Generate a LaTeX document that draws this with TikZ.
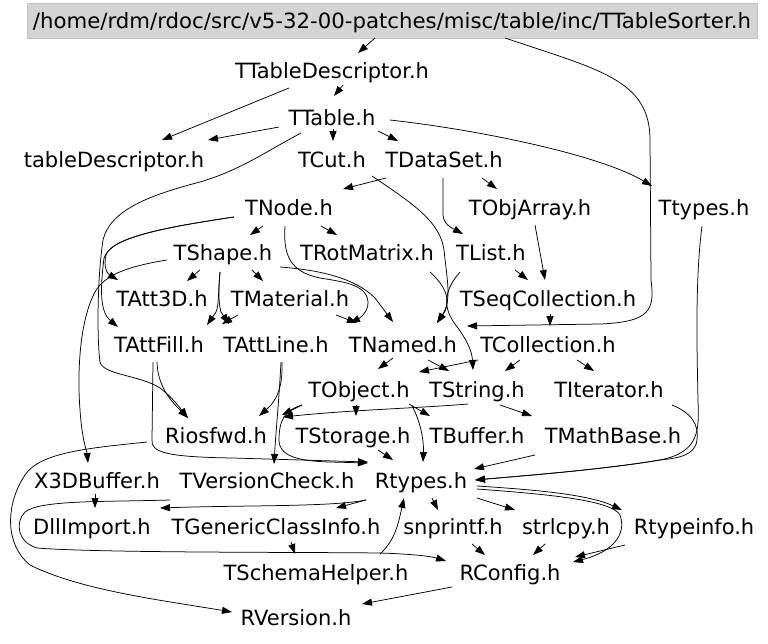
\documentclass[tikz,border=0pt]{standalone}
\usepackage{fontspec}
\usepackage{graphicx}
\setmainfont{DejaVu Sans}
\usetikzlibrary{arrows.meta,calc}
\begin{document}
\begin{tikzpicture}[x=1pt,y=-1pt,
  n/.style={font=\fontsize{21}{25}\selectfont, text height=16pt, text depth=0pt, inner sep=0pt},
  e/.style={draw=black, line width=0.75pt, -{Triangle[length=10pt,width=7pt]}},
  rootbox/.style={fill=black!17, draw=black!24, line width=0.8pt, minimum width=730pt, minimum height=35pt, inner sep=0pt, font=\fontsize{21}{25}\selectfont, text height=16pt, text depth=0pt}]
\useasboundingbox (0,0) rectangle (768,643);
% nodes
\node[rootbox] (root) at (392,20.5) {\resizebox{718pt}{\height}{/home/rdm/rdoc/src/v5-32-00-patches/misc/table/inc/TTableSorter.h}};
\node[n] (TTD) at (332,70) {TTableDescriptor.h};
\node[n] (TT) at (332,117) {TTable.h};
\node[n] (td) at (114,159) {tableDescriptor.h};
\node[n] (TCut) at (332,159) {TCut.h};
\node[n] (TDS) at (444,159) {TDataSet.h};
\node[n] (TNode) at (289,207) {TNode.h};
\node[n] (TObjArray) at (530,207) {TObjArray.h};
\node[n] (Ttypes) at (704,207) {Ttypes.h};
\node[n] (TShape) at (223,252) {TShape.h};
\node[n] (TRotMatrix) at (367,252) {TRotMatrix.h};
\node[n] (TList) at (491,252) {TList.h};
\node[n] (TAtt3D) at (162,298) {TAtt3D.h};
\node[n] (TMaterial) at (290,298) {TMaterial.h};
\node[n] (TSeqCollection) at (548,298) {TSeqCollection.h};
\node[n] (TAttFill) at (159,344) {TAttFill.h};
\node[n] (TAttLine) at (276,344) {TAttLine.h};
\node[n] (TNamed) at (403,344) {TNamed.h};
\node[n] (TCollection) at (548,344) {TCollection.h};
\node[n] (TObject) at (359,389) {TObject.h};
\node[n] (TString) at (477,389) {TString.h};
\node[n] (TIterator) at (609,389) {TIterator.h};
\node[n] (Riosfwd) at (216,435) {Riosfwd.h};
\node[n] (TStorage) at (353,435) {TStorage.h};
\node[n] (TBuffer) at (477,435) {TBuffer.h};
\node[n] (TMathBase) at (613,435) {TMathBase.h};
\node[n] (X3DBuffer) at (97,480) {X3DBuffer.h};
\node[n] (TVersionCheck) at (267,480) {TVersionCheck.h};
\node[n] (Rtypes) at (421,480) {Rtypes.h};
\node[n] (DllImport) at (92,526) {DllImport.h};
\node[n] (TGenericClassInfo) at (276,526) {TGenericClassInfo.h};
\node[n] (snprintf) at (453,526) {snprintf.h};
\node[n] (strlcpy) at (566,526) {strlcpy.h};
\node[n] (Rtypeinfo) at (694,526) {Rtypeinfo.h};
\node[n] (TSchemaHelper) at (316,572) {TSchemaHelper.h};
\node[n] (RConfig) at (510,572) {RConfig.h};
\node[n] (RVersion) at (296,617) {RVersion.h};
% edges
\draw[e] ($(root)+(-17,17.5)$) -- ($(TTD)+(26,-17)$);
\draw[e] ($(TTD)+(11,15)$) -- ($(TT)+(2,-21)$);
\draw[e] ($(TTD)+(-43,18)$) -- ($(td)+(48,-19)$);
\draw[e] ($(TT)+(-53,10)$) -- ($(td)+(94,-19)$);
\draw[e] ($(TT)+(1,12)$) -- ($(TCut)+(1,-18)$);
\draw[e] ($(TT)+(46,14)$) -- ($(TDS)+(-46,-18)$);
\draw[e] ($(TT)+(58,3)$) .. controls (480,130) and (600,155) .. ($(Ttypes)+(-52,-21)$);
\draw[e] ($(TT)+(-31,16)$) .. controls (260,155) and (240,170) .. (200,182) .. controls (150,195) and (110,210) .. (103,240) .. controls (97,280) and (97,340) .. (100,362) .. controls (103,375) and (140,375) .. (160,388) .. controls (172,397) and (180,408) .. ($(Riosfwd)+(-28,-17)$);
\draw[e] ($(root)+(113,17.5)$) .. controls (600,70) and (650,80) .. (650,140) -- (651,280) .. controls (655,310) and (650,322) .. (600,324) -- ($(TNamed)+(64,-18)$);
\draw[e] ($(TDS)+(-58,19)$) -- ($(TNode)+(54,-18)$);
\draw[e] ($(TDS)+(38,19)$) -- ($(TObjArray)+(-33,-18)$);
\draw[e] ($(TDS)+(-1,19)$) -- (443,215) .. controls (444,225) and (452,228) .. ($(TList)+(-28,-18)$);
\draw[e] ($(TCut)+(40,17)$) .. controls (415,205) and (440,222) .. (444,250) .. controls (447,280) and (452,300) .. ($(TNamed)+(34,-21)$);
\draw[e] ($(TRotMatrix)+(63,20)$) .. controls (450,290) and (450,305) .. ($(TNamed)+(34,-21)$);
\draw[e] ($(TList)+(-31,20)$) .. controls (440,295) and (445,312) .. (458,328) .. controls (468,342) and (472,352) .. ($(TString)+(-4,-19)$);
\draw[e] ($(TObjArray)+(5,18)$) -- ($(TSeqCollection)+(-3,-18)$);
\draw[e] ($(TList)+(24,18)$) -- ($(TSeqCollection)+(-20,-18)$);
\draw[e] ($(TSeqCollection)+(2,16)$) -- ($(TCollection)+(2,-18)$);
\draw[e] ($(TNode)+(-26,19)$) -- ($(TShape)+(27,-17)$);
\draw[e] ($(TNode)+(32,19)$) -- ($(TRotMatrix)+(-30,-17)$);
\draw[e] ($(TNode)+(-55,10)$) .. controls (160,228) and (112,238) .. (106,255) .. controls (103,268) and (108,274) .. ($(TAtt3D)+(-44,-18)$);
\draw[e] ($(TNode)+(-55,10)$) .. controls (160,228) and (110,238) .. (104,258) .. controls (100,290) and (100,312) .. ($(TAttFill)+(-41,-17)$);
\draw[e] ($(TNode)+(-4,19)$) .. controls (283,255) and (290,272) .. (320,278) .. controls (345,282) and (368,285) .. (368,303) .. controls (368,312) and (360,318) .. ($(TNamed)+(-53,-21)$);
\draw[e] ($(TShape)+(-23,18)$) -- ($(TAtt3D)+(25,-17)$);
\draw[e] ($(TShape)+(29,18)$) -- ($(TMaterial)+(-27,-17)$);
\draw[e] ($(TShape)+(-3,20)$) .. controls (218,295) and (219,305) .. (216,312) -- ($(TAttFill)+(48,-19)$);
\draw[e] ($(TShape)+(-3,20)$) .. controls (218,295) and (219,305) .. (221,312) -- ($(TAttLine)+(-47,-20)$);
\draw[e] ($(TMaterial)+(-52,17)$) -- ($(TAttFill)+(63,-20)$);
\draw[e] ($(TShape)+(57,15)$) .. controls (320,270) and (355,278) .. (375,298) -- ($(TNamed)+(-10,-22)$);
\draw[e] ($(TMaterial)+(46,17)$) -- ($(TNamed)+(-46,-21)$);
\draw[e] ($(TShape)+(-56,8)$) .. controls (130,266) and (105,274) .. (95,292) .. controls (80,320) and (77,370) .. (80,410) .. controls (82,440) and (87,452) .. ($(X3DBuffer)+(-9,-17)$);
\draw[e] ($(TNamed)+(-10,14)$) -- ($(TObject)+(19,-20)$);
\draw[e] ($(TNamed)+(25,16)$) -- ($(TString)+(-28,-18)$);
\draw[e] ($(TCollection)+(-70,16)$) -- ($(TObject)+(60,-17)$);
\draw[e] ($(TCollection)+(-28,16)$) -- ($(TString)+(28,-18)$);
\draw[e] ($(TCollection)+(29,16)$) -- ($(TIterator)+(-15,-18)$);
\draw[e] ($(TAttFill)+(-2,18)$) .. controls (158,385) and (168,398) .. ($(Riosfwd)+(-28,-17)$);
\draw[e] ($(TAttFill)+(-6,18)$) -- (152,440) .. controls (151,452) and (165,457) .. (233,458) -- ($(Rtypes)+(-53,-18)$);
\draw[e] ($(TAttLine)+(6,18)$) .. controls (283,390) and (275,402) .. ($(Riosfwd)+(43,-19)$);
\draw[e] ($(TAttLine)+(5,18)$) .. controls (279,400) and (276,430) .. ($(TVersionCheck)+(7,-16)$);
\draw[e] ($(TObject)+(-57,16)$) -- ($(Riosfwd)+(66,-20)$);
\draw[e] ($(TString)+(-9,15)$) .. controls (420,408) and (350,410) .. ($(Riosfwd)+(67,-18)$);
\draw[e] ($(TObject)+(-3,16)$) -- ($(TStorage)+(3,-19)$);
\draw[e] ($(TObject)+(50,15)$) -- ($(TBuffer)+(-47,-19)$);
\draw[e] ($(TString)+(-65,17)$) .. controls (420,420) and (424,440) .. ($(Rtypes)+(2,-18)$);
\draw[e] ($(TObject)+(-57,16)$) .. controls (285,410) and (279,420) .. (279,440) .. controls (279,455) and (295,461) .. (330,462) -- ($(Rtypes)+(-53,-17)$);
\draw[e] ($(TStorage)+(25,15)$) -- ($(Rtypes)+(-28,-20)$);
\draw[e] ($(TString)+(23,16)$) -- ($(TMathBase)+(-81,-19)$);
\draw[e] ($(TMathBase)+(-78,20)$) -- ($(Rtypes)+(53,-11)$);
\draw[e] ($(Ttypes)+(-2,19)$) .. controls (695,280) and (697,350) .. (698,400) .. controls (699,430) and (700,452) .. (660,460) .. controls (600,470) and (520,476) .. ($(Rtypes)+(54,0)$);
\draw[e] ($(TIterator)+(63,16)$) .. controls (692,413) and (699,425) .. (697,440) .. controls (695,455) and (680,458) .. (660,460) .. controls (600,470) and (520,476) .. ($(Rtypes)+(54,0)$);
\draw[e] ($(Rtypes)+(-55,20)$) .. controls (330,507) and (250,505) .. ($(DllImport)+(68,-18)$);
\draw[e] ($(Rtypes)+(-55,20)$) -- ($(TGenericClassInfo)+(60,-18)$);
\draw[e] ($(Rtypes)+(11,18)$) -- ($(snprintf)+(-15,-16)$);
\draw[e] ($(Rtypes)+(56,18)$) -- ($(strlcpy)+(-51,-16)$);
\draw[e] ($(Rtypes)+(56,6)$) .. controls (540,490) and (590,495) .. ($(Rtypeinfo)+(-72,-16)$);
\draw[e] ($(Rtypes)+(56,9)$) .. controls (545,494) and (612,500) .. (620,515) .. controls (627,535) and (612,552) .. ($(RConfig)+(63,-10)$);
\draw[e] ($(Rtypeinfo)+(-69,19)$) -- ($(RConfig)+(65,-15)$);
\draw[e] ($(snprintf)+(19,18)$) -- ($(RConfig)+(-25,-17)$);
\draw[e] ($(strlcpy)+(-21,18)$) -- ($(RConfig)+(23,-17)$);
\draw[e] ($(RConfig)+(-58,15)$) -- ($(RVersion)+(66,-13)$);
\draw[e] ($(X3DBuffer)+(-2,14)$) -- ($(DllImport)+(3,-18)$);
\draw[e] ($(TGenericClassInfo)+(15,16)$) -- ($(TSchemaHelper)+(-21,-18)$);
\draw[e] ($(TSchemaHelper)+(64,-18)$) .. controls (395,540) and (398,525) .. ($(Rtypes)+(-17,18)$);
\draw[e] ($(TVersionCheck)+(-97,20)$) .. controls (100,502) and (40,500) .. (25,512) .. controls (15,522) and (17,542) .. (37,548) .. controls (100,553) and (300,552) .. (380,553) .. controls (410,554) and (430,556) .. ($(RConfig)+(-64,-11)$);
\draw[e] ($(Riosfwd)+(-69,7)$) .. controls (90,448) and (40,452) .. (25,475) .. controls (5,505) and (5,545) .. (30,565) .. controls (80,590) and (160,600) .. ($(RVersion)+(-64,-5)$);
\end{tikzpicture}
\end{document}
